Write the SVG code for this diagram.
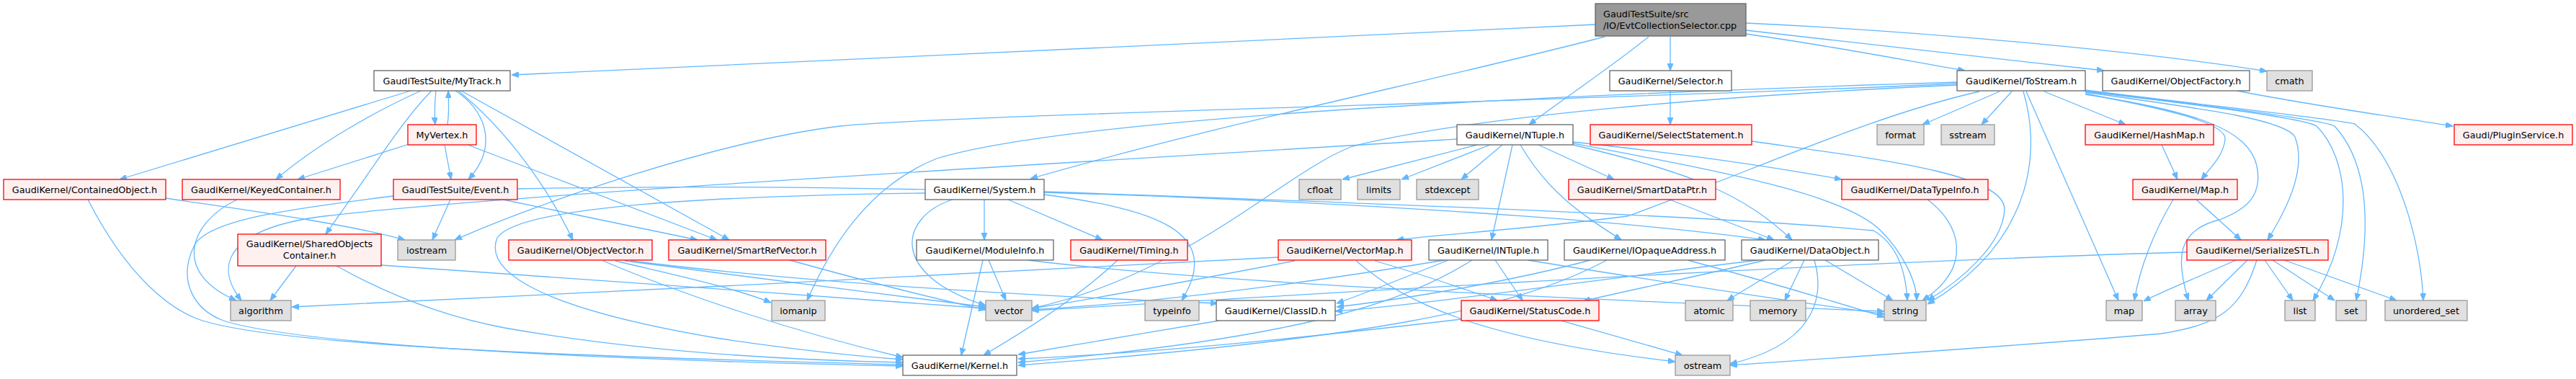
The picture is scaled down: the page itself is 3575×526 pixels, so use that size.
<svg xmlns="http://www.w3.org/2000/svg" width="3575" height="526" viewBox="0 0 3575 526">
<style>
.e{fill:none;stroke:#63B8FF;stroke-width:1.3;marker-end:url(#ah)}
.w rect{fill:#FFFFFF;stroke:#666666;stroke-width:1.3}
.r rect{fill:#FFF0F0;stroke:#FF0000;stroke-width:1.3}
.g rect{fill:#E0E0E0;stroke:#999999;stroke-width:1.3}
.root rect{fill:#999999;stroke:#666666;stroke-width:1.3}
text{font-family:"DejaVu Sans","Liberation Sans",sans-serif;font-size:12.8px;fill:#000000;text-anchor:middle}
.root text{text-anchor:start}
</style>
<defs>
<marker id="ah" markerUnits="userSpaceOnUse" markerWidth="10" markerHeight="8" refX="10" refY="4" orient="auto">
<path d="M0,0 L10,4 L0,8 z" fill="#63B8FF" stroke="#63B8FF" stroke-width="1"/>
</marker>
</defs>
<rect x="0" y="0" width="3575" height="526" fill="#FFFFFF"/>
<g id="edges">
<path class="e" d="M2214,34 C1800,53 1200,82 710,104"/>
<path class="e" d="M2227,51 C2000,110 1700,170 1430,248"/>
<path class="e" d="M2288,51 C2240,90 2180,130 2122,173"/>
<path class="e" d="M2318,51 L2318,98"/>
<path class="e" d="M2423,47 C2550,65 2650,85 2727,98"/>
<path class="e" d="M2423,42 C2600,62 2800,85 2920,98"/>
<path class="e" d="M2423,32 C2700,45 3000,75 3146,99"/>
<path class="e" d="M570,126 L166,249"/>
<path class="e" d="M584,126 C520,155 440,200 383,249"/>
<path class="e" d="M599,126 C560,165 520,230 452,325"/>
<path class="e" d="M605,126 C603,145 603,160 604,173"/>
<path class="e" d="M621,173 C623,160 623,145 622,126"/>
<path class="e" d="M632,126 C670,150 695,200 650,249"/>
<path class="e" d="M636,126 C690,170 750,240 795,333"/>
<path class="e" d="M640,126 L1012,333"/>
<path class="e" d="M649,201 L995,333"/>
<path class="e" d="M617,201 L626,249"/>
<path class="e" d="M568,200 L413,249"/>
<path class="e" d="M230,275 C330,290 480,310 562,333"/>
<path class="e" d="M122,277 C180,390 240,430 275,443 C380,480 800,495 1253,506"/>
<path class="e" d="M329,277 C260,310 240,380 328,417"/>
<path class="e" d="M546,272 C400,290 290,305 270,340 C245,390 270,430 310,445 C420,480 850,500 1253,508"/>
<path class="e" d="M625,277 L600,333"/>
<path class="e" d="M698,277 L968,333"/>
<path class="e" d="M718,262 C1300,250 2100,285 2450,333"/>
<path class="e" d="M411,369 L375,417"/>
<path class="e" d="M467,369 C540,410 620,440 700,455 C900,490 1100,500 1253,503"/>
<path class="e" d="M529,368 C800,385 1100,410 1368,428"/>
<path class="e" d="M837,362 C950,410 1100,460 1253,496"/>
<path class="e" d="M854,362 C950,385 1020,400 1070,420"/>
<path class="e" d="M867,362 C1000,380 1200,405 1368,426"/>
<path class="e" d="M875,362 C1100,390 1400,410 1690,421"/>
<path class="e" d="M1096,361 C1200,390 1300,415 1368,430"/>
<path class="e" d="M1284,268 C1000,272 720,285 690,330 C670,380 760,430 1000,470 C1100,485 1200,495 1253,499"/>
<path class="e" d="M1322,277 C1250,300 1230,380 1368,424"/>
<path class="e" d="M1366,277 L1366,333"/>
<path class="e" d="M1399,277 L1530,333"/>
<path class="e" d="M1449,270 C1600,290 1700,320 1640,417"/>
<path class="e" d="M1449,266 C1800,278 2400,300 2600,320 C2635,340 2645,380 2647,417"/>
<path class="e" d="M1364,361 L1334,493"/>
<path class="e" d="M1372,361 L1396,417"/>
<path class="e" d="M1426,361 C1700,395 2300,420 2615,432"/>
<path class="e" d="M1551,361 C1500,410 1430,455 1365,493"/>
<path class="e" d="M1692,445 C1600,460 1500,478 1413,492"/>
<path class="e" d="M1774,357 C1400,375 800,410 405,426"/>
<path class="e" d="M1797,362 C1650,390 1500,418 1432,428"/>
<path class="e" d="M1882,362 C1950,420 2050,470 2325,502"/>
<path class="e" d="M1908,362 C1970,380 2030,400 2078,417"/>
<path class="e" d="M2010,361 C1950,385 1900,405 1855,421"/>
<path class="e" d="M2043,361 C1950,420 1800,470 1413,503"/>
<path class="e" d="M2075,361 L2113,417"/>
<path class="e" d="M2120,361 C2300,390 2500,420 2615,436"/>
<path class="e" d="M2005,361 C1800,395 1600,420 1432,430"/>
<path class="e" d="M2207,361 C2100,390 1950,415 1855,426"/>
<path class="e" d="M2230,361 C2100,430 1900,470 1413,507"/>
<path class="e" d="M2342,361 C2450,390 2550,420 2615,440"/>
<path class="e" d="M2450,361 C2350,385 2250,405 2197,418"/>
<path class="e" d="M2440,361 C2200,390 2000,420 1853,432"/>
<path class="e" d="M2489,361 L2397,417"/>
<path class="e" d="M2504,361 L2477,417"/>
<path class="e" d="M2518,361 C2535,420 2510,480 2401,505"/>
<path class="e" d="M2533,361 L2627,417"/>
<path class="e" d="M2167,445 L2335,493"/>
<path class="e" d="M2028,443 C1800,470 1600,490 1413,498"/>
<path class="e" d="M2022,193 C1500,225 700,270 450,300 C330,315 290,360 335,417"/>
<path class="e" d="M2050,201 L1863,249"/>
<path class="e" d="M2068,201 L1945,249"/>
<path class="e" d="M2085,201 L2028,249"/>
<path class="e" d="M2099,201 L2070,333"/>
<path class="e" d="M2110,201 C2150,270 2200,300 2250,333"/>
<path class="e" d="M2135,201 L2240,249"/>
<path class="e" d="M2183,197 C2350,215 2480,235 2556,249"/>
<path class="e" d="M2183,201 C2350,240 2420,270 2487,333"/>
<path class="e" d="M2183,199 C2400,240 2560,270 2610,320 C2640,350 2660,390 2660,417"/>
<path class="e" d="M2317,277 L2462,333"/>
<path class="e" d="M2431,196 C2600,220 2780,240 2782,290 C2780,340 2720,390 2675,417"/>
<path class="e" d="M2675,277 C2720,310 2740,370 2668,417"/>
<path class="e" d="M2318,126 L2318,173"/>
<path class="e" d="M2717,116 C2200,140 1300,160 1166,175 C1000,195 750,280 631,333"/>
<path class="e" d="M2717,114 C2200,130 1500,160 1300,220 C1200,260 1150,350 1120,417"/>
<path class="e" d="M2717,118 C2400,132 2050,160 1877,203 C1780,240 1650,380 1432,428"/>
<path class="e" d="M2747,127 C2600,160 2450,230 2259,300 C2100,320 2000,325 1938,333"/>
<path class="e" d="M2775,127 L2668,173"/>
<path class="e" d="M2792,127 L2750,173"/>
<path class="e" d="M2808,127 C2830,200 2830,330 2675,422"/>
<path class="e" d="M2812,127 L2940,417"/>
<path class="e" d="M2837,127 L2950,173"/>
<path class="e" d="M2894,130 C3000,150 3090,170 3088,193 C3086,215 3070,230 3055,249"/>
<path class="e" d="M2894,131 C3050,155 3120,180 3132,230 C3140,270 3120,290 3080,305 C3020,320 3020,360 3037,417"/>
<path class="e" d="M2894,128 C3050,150 3170,165 3185,190 C3200,230 3180,280 3147,333"/>
<path class="e" d="M2894,127 C3050,145 3200,165 3215,175 C3260,220 3270,320 3210,417"/>
<path class="e" d="M2894,126 C3050,145 3220,165 3240,175 C3290,230 3290,320 3270,417"/>
<path class="e" d="M2894,125 C3050,145 3240,165 3268,172 C3330,220 3360,340 3363,417"/>
<path class="e" d="M3000,201 L3022,249"/>
<path class="e" d="M3016,277 C2990,320 2970,370 2962,417"/>
<path class="e" d="M3048,277 L3110,333"/>
<path class="e" d="M3105,126 C3200,145 3320,162 3404,175"/>
<path class="e" d="M3035,350 C2500,365 1800,410 1432,431"/>
<path class="e" d="M3103,361 C3050,385 3000,405 2975,418"/>
<path class="e" d="M3119,361 L3062,417"/>
<path class="e" d="M3132,361 C3110,430 3080,450 3000,463 C2800,480 2500,500 2401,507"/>
<path class="e" d="M3143,361 L3182,417"/>
<path class="e" d="M3154,361 L3240,417"/>
<path class="e" d="M3170,361 L3326,417"/>
</g>
<g id="root" class="root"><rect x="2214" y="5" width="209" height="45"/><text x="2225" y="23.5">GaudiTestSuite/src</text><text x="2225" y="40">/IO/EvtCollectionSelector.cpp</text></g>
<g id="n_mytrack" class="w"><rect x="519" y="98" width="189" height="28"/><text x="613.5" y="116.5">GaudiTestSuite/MyTrack.h</text></g>
<g id="n_selector" class="w"><rect x="2234" y="98" width="169" height="28"/><text x="2318.5" y="116.5">GaudiKernel/Selector.h</text></g>
<g id="n_tostream" class="w"><rect x="2716" y="98" width="178" height="28"/><text x="2805" y="116.5">GaudiKernel/ToStream.h</text></g>
<g id="n_objectfactory" class="w"><rect x="2918" y="98" width="204" height="28"/><text x="3020" y="116.5">GaudiKernel/ObjectFactory.h</text></g>
<g id="n_cmath" class="g"><rect x="3146" y="98" width="63" height="28"/><text x="3177.5" y="116.5">cmath</text></g>
<g id="n_myvertex" class="r"><rect x="566" y="173" width="95" height="28"/><text x="613.5" y="191.5">MyVertex.h</text></g>
<g id="n_ntuple" class="w"><rect x="2022" y="173" width="161" height="28"/><text x="2102.5" y="191.5">GaudiKernel/NTuple.h</text></g>
<g id="n_selectstatement" class="r"><rect x="2207" y="173" width="224" height="28"/><text x="2319" y="191.5">GaudiKernel/SelectStatement.h</text></g>
<g id="n_format" class="g"><rect x="2605" y="173" width="65" height="28"/><text x="2637.5" y="191.5">format</text></g>
<g id="n_sstream" class="g"><rect x="2694" y="173" width="74" height="28"/><text x="2731" y="191.5">sstream</text></g>
<g id="n_hashmap" class="r"><rect x="2894" y="173" width="178" height="28"/><text x="2983" y="191.5">GaudiKernel/HashMap.h</text></g>
<g id="n_pluginservice" class="r"><rect x="3406" y="173" width="164" height="28"/><text x="3488" y="191.5">Gaudi/PluginService.h</text></g>
<g id="n_containedobject" class="r"><rect x="5" y="249" width="225" height="28"/><text x="117.5" y="267.5">GaudiKernel/ContainedObject.h</text></g>
<g id="n_keyedcontainer" class="r"><rect x="253" y="249" width="219" height="28"/><text x="362.5" y="267.5">GaudiKernel/KeyedContainer.h</text></g>
<g id="n_event" class="r"><rect x="546" y="249" width="172" height="28"/><text x="632" y="267.5">GaudiTestSuite/Event.h</text></g>
<g id="n_system" class="w"><rect x="1284" y="249" width="165" height="28"/><text x="1366.5" y="267.5">GaudiKernel/System.h</text></g>
<g id="n_cfloat" class="g"><rect x="1803" y="249" width="58" height="28"/><text x="1832" y="267.5">cfloat</text></g>
<g id="n_limits" class="g"><rect x="1884" y="249" width="59" height="28"/><text x="1913.5" y="267.5">limits</text></g>
<g id="n_stdexcept" class="g"><rect x="1966" y="249" width="86" height="28"/><text x="2009" y="267.5">stdexcept</text></g>
<g id="n_smartdataptr" class="r"><rect x="2177" y="249" width="204" height="28"/><text x="2279" y="267.5">GaudiKernel/SmartDataPtr.h</text></g>
<g id="n_datatypeinfo" class="r"><rect x="2556" y="249" width="203" height="28"/><text x="2657.5" y="267.5">GaudiKernel/DataTypeInfo.h</text></g>
<g id="n_maph" class="r"><rect x="2960" y="249" width="145" height="28"/><text x="3032.5" y="267.5">GaudiKernel/Map.h</text></g>
<g id="n_sharedobjects" class="r"><rect x="330" y="325" width="199" height="44"/><text x="429.5" y="342.5">GaudiKernel/SharedObjects</text><text x="429.5" y="358.5">Container.h</text></g>
<g id="n_iostream" class="g"><rect x="552" y="333" width="80" height="28"/><text x="592" y="351.5">iostream</text></g>
<g id="n_objectvector" class="r"><rect x="706" y="333" width="199" height="28"/><text x="805.5" y="351.5">GaudiKernel/ObjectVector.h</text></g>
<g id="n_smartrefvector" class="r"><rect x="928" y="333" width="218" height="28"/><text x="1037" y="351.5">GaudiKernel/SmartRefVector.h</text></g>
<g id="n_moduleinfo" class="w"><rect x="1272" y="333" width="190" height="28"/><text x="1367" y="351.5">GaudiKernel/ModuleInfo.h</text></g>
<g id="n_timing" class="r"><rect x="1486" y="333" width="162" height="28"/><text x="1567" y="351.5">GaudiKernel/Timing.h</text></g>
<g id="n_vectormap" class="r"><rect x="1774" y="333" width="185" height="28"/><text x="1866.5" y="351.5">GaudiKernel/VectorMap.h</text></g>
<g id="n_intuple" class="w"><rect x="1983" y="333" width="165" height="28"/><text x="2065.5" y="351.5">GaudiKernel/INTuple.h</text></g>
<g id="n_iopaqueaddress" class="w"><rect x="2171" y="333" width="223" height="28"/><text x="2282.5" y="351.5">GaudiKernel/IOpaqueAddress.h</text></g>
<g id="n_dataobject" class="w"><rect x="2417" y="333" width="190" height="28"/><text x="2512" y="351.5">GaudiKernel/DataObject.h</text></g>
<g id="n_serializestl" class="r"><rect x="3035" y="333" width="196" height="28"/><text x="3133" y="351.5">GaudiKernel/SerializeSTL.h</text></g>
<g id="n_algorithm" class="g"><rect x="320" y="417" width="84" height="28"/><text x="362" y="435.5">algorithm</text></g>
<g id="n_iomanip" class="g"><rect x="1071" y="417" width="74" height="28"/><text x="1108" y="435.5">iomanip</text></g>
<g id="n_vector" class="g"><rect x="1368" y="417" width="64" height="28"/><text x="1400" y="435.5">vector</text></g>
<g id="n_typeinfo" class="g"><rect x="1589" y="417" width="75" height="28"/><text x="1626.5" y="435.5">typeinfo</text></g>
<g id="n_classid" class="w"><rect x="1688" y="417" width="165" height="28"/><text x="1770.5" y="435.5">GaudiKernel/ClassID.h</text></g>
<g id="n_statuscode" class="r"><rect x="2028" y="417" width="191" height="28"/><text x="2123.5" y="435.5">GaudiKernel/StatusCode.h</text></g>
<g id="n_atomic" class="g"><rect x="2339" y="417" width="66" height="28"/><text x="2372" y="435.5">atomic</text></g>
<g id="n_memory" class="g"><rect x="2429" y="417" width="77" height="28"/><text x="2467.5" y="435.5">memory</text></g>
<g id="n_string" class="g"><rect x="2615" y="417" width="58" height="28"/><text x="2644" y="435.5">string</text></g>
<g id="n_map" class="g"><rect x="2923" y="417" width="50" height="28"/><text x="2948" y="435.5">map</text></g>
<g id="n_array" class="g"><rect x="3019" y="417" width="56" height="28"/><text x="3047" y="435.5">array</text></g>
<g id="n_list" class="g"><rect x="3171" y="417" width="42" height="28"/><text x="3192" y="435.5">list</text></g>
<g id="n_set" class="g"><rect x="3242" y="417" width="42" height="28"/><text x="3263" y="435.5">set</text></g>
<g id="n_unordered_set" class="g"><rect x="3310" y="417" width="114" height="28"/><text x="3367" y="435.5">unordered_set</text></g>
<g id="n_kernel" class="w"><rect x="1253" y="493" width="158" height="28"/><text x="1332" y="511.5">GaudiKernel/Kernel.h</text></g>
<g id="n_ostream" class="g"><rect x="2325" y="493" width="76" height="28"/><text x="2363" y="511.5">ostream</text></g>
</svg>
